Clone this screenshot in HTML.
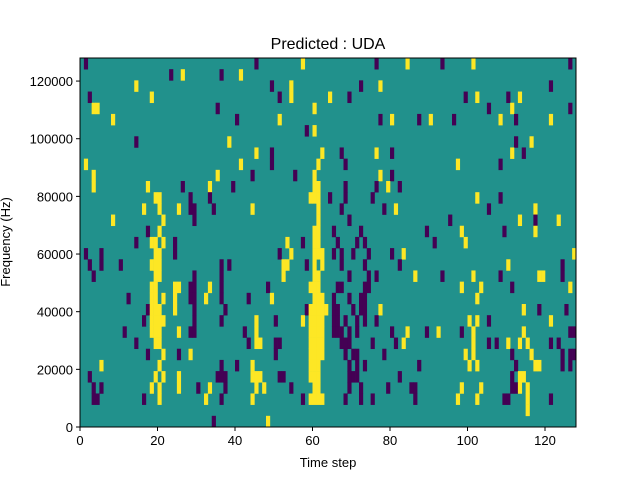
<!DOCTYPE html>
<html><head><meta charset="utf-8"><style>
html,body{margin:0;padding:0;background:#fff;}
svg{display:block;font-family:"Liberation Sans","DejaVu Sans",sans-serif;}
</style></head><body>
<svg id="chart" width="640" height="480" viewBox="0 0 640 480" xmlns="http://www.w3.org/2000/svg">
<rect width="640" height="480" fill="#fff"/>
<text x="328" y="49" font-size="16" text-anchor="middle">Predicted : UDA</text>
<g id="cells"></g>
<g id="axes"></g>
<text x="328" y="467" font-size="13" text-anchor="middle">Time step</text>
<text transform="translate(10,242) rotate(-90)" font-size="13" text-anchor="middle">Frequency (Hz)</text>
</svg>
<script>
// Heatmap data: rows listed top (highest frequency bin) to bottom; tokens: p=low, y=high, rest = mid
const nCols = 128;
const nRows = 33;
const freqMax = 128000;
const xTicks = [0, 20, 40, 60, 80, 100, 120];
const yTicks = [0, 20000, 40000, 60000, 80000, 100000, 120000];
const yTickLabels = ["0", "20000", "40000", "60000", "80000", "100000", "120000"];
const rowCells = [
"p1 p45 y57 p76 y84 p93 y101 p126",
"p23 y26 p36 y41",
"y14 p49 y54 p72 y77 p121",
"p2 y18 p51 y54 y64 p69 p99 y102 p110 y113",
"y3-4 p35 y60 p105 y111 p126",
"y8 p40 y51 p77 y80 p87 y90 p96 y108 p112 y121",
"p58 y60",
"p14 y38 p112 y116",
"y45 p49 y62 p67 y76 p80 y111 p114",
"y1 y41 p49 y61 p68 y97 p108",
"y3 y35 p44 p55 y60 y77 p80",
"y3 y17 p26 y33 p39 y60-61 p68 p76 y79 p82",
"y19-20 p28 p33 y59-61 p64 p68 p75 y102 p108",
"y16 y20 y25 p28-29 p34 y44 y61 p67 p78 y81 p105 y117",
"y8 y21 p29 y61 p69 p95 y113 p117 y123",
"p17 y20 y60-61 p65 p72 p89 y98 p109 y117",
"p14 y18-19 y21 p24 y53 p57 y60-61 p66 p71 p73 p91 y99",
"p1 p5 y19-20 p24 p51 y54 y60-62 p65 p67 p70 p74 p80 y83 y127",
"p2 p5 p10 y18-20 p36 p38 y52-53 p58 y60 y62 p67 p73 p82 y110 p124",
"p3 y19-20 p29 p36 y52 y60-61 p69 p74 p76 y86 p93 y101 p108 y118-119 p124",
"y18-19 y24-25 p28-29 y33 p36 p48 y59-61 p66-67 p73-74 y98 y103 p111 y126",
"p12 y18-19 y21 y24 p28-29 y32 p36 p43 y49 y60-62 p65 p69 p72-73 y102",
"p17 y18-20 y24 p29 p37 p58 y59-63 p65-66 p70 p72-73 y77 y114 p118 p125",
"p16 y18-21 p29 p36 y45 p50 y57 y59-62 p65-66 p68 p71 p73 p76 y100 y102 p105 y121",
"p11 y18-20 y25 p28-29 p42 y45 y59-62 p65-67 p69 p71 p80 y84 p89 y92 p98 y101 y114 p126-127",
"p14 y19-20 p43 y45-46 p50-51 y59-62 p67-69 p75 p81 y83 y101 p105 p107 y110 y113 y115 p121 p123",
"p17 y21 p25 y28 p50 y59-62 p68 p70-71 p78 y99 y101 p111 y116 p124 p126-127",
"y5 y20 p36 p40 y44 y59-61 p69 p71 p73 p87 y100 y102 p112 y117-118 p124 p126",
"p2 y19 y21 y25 p35-37 y44-46 p51-52 y59-61 p69-71 p82 p111 y113-114",
"p3 p5 y18 y20 y25 p30 y33 p37 y45 y47 p54 y60-61 p69 p72 p79 p85-86 y98 y103 p111-112 y113 y115",
"p3-4 p16 y20 y32 p36 y44 p57 y59-62 p68 p72 p75 p86 y97 y102 p109-110 y115 p121",
"y115",
"p34 y48"
];

const NS = "http://www.w3.org/2000/svg";
const L = 80, R = 576, T = 58, B = 427;
function xScale(v){ return L + v / nCols * (R - L); }
function yScale(f){ return B - f / freqMax * (B - T); }
const colors = {p: "#440154", m: "#21918c", y: "#fde725"};

const cellsG = document.getElementById('cells');
const bg = document.createElementNS(NS, 'rect');


bg.setAttribute('x', L); bg.setAttribute('y', T);
bg.setAttribute('width', R - L); bg.setAttribute('height', B - T);
bg.setAttribute('fill', colors.m);
cellsG.appendChild(bg);

const binH = freqMax / nRows;
rowCells.forEach(function(str, r){
  const bin = nRows - 1 - r;
  str.split(/\s+/).filter(Boolean).forEach(function(tok){
    const c = tok[0];
    const parts = tok.slice(1).split('-').map(Number);
    const a = parts[0], b = parts.length > 1 ? parts[1] : parts[0];
    for (let col = a; col <= b; col++) {
      const rect = document.createElementNS(NS, 'rect');
      
      
      const x0 = xScale(col), x1 = xScale(col + 1);
      const y0 = yScale((bin + 1) * binH), y1 = yScale(bin * binH);
      rect.setAttribute('x', x0.toFixed(2));
      rect.setAttribute('y', y0.toFixed(2));
      rect.setAttribute('width', (x1 - x0 + 0.3).toFixed(2));
      rect.setAttribute('height', (y1 - y0 + 0.3).toFixed(2));
      rect.setAttribute('fill', colors[c]);
      cellsG.appendChild(rect);
    }
  });
});

const axesG = document.getElementById('axes');
const frame = document.createElementNS(NS, 'rect');


frame.setAttribute('x', L); frame.setAttribute('y', T);
frame.setAttribute('width', R - L); frame.setAttribute('height', B - T);
frame.setAttribute('fill', 'none'); frame.setAttribute('stroke', '#000'); frame.setAttribute('stroke-width', '1');
axesG.appendChild(frame);

xTicks.forEach(function(v){
  const x = xScale(v);
  const ln = document.createElementNS(NS, 'line');
  
  
  ln.setAttribute('x1', x); ln.setAttribute('x2', x);
  ln.setAttribute('y1', B); ln.setAttribute('y2', B + 4);
  ln.setAttribute('stroke', '#000');
  axesG.appendChild(ln);
  const t = document.createElementNS(NS, 'text');
  
  
  t.setAttribute('x', x); t.setAttribute('y', B + 18);
  t.setAttribute('font-size', '13'); t.setAttribute('text-anchor', 'middle');
  t.textContent = String(v);
  axesG.appendChild(t);
});

yTicks.forEach(function(v, i){
  const y = yScale(v);
  const ln = document.createElementNS(NS, 'line');
  
  
  ln.setAttribute('x1', L - 4); ln.setAttribute('x2', L);
  ln.setAttribute('y1', y); ln.setAttribute('y2', y);
  ln.setAttribute('stroke', '#000');
  axesG.appendChild(ln);
  const t = document.createElementNS(NS, 'text');
  
  
  t.setAttribute('x', L - 7); t.setAttribute('y', y + 5);
  t.setAttribute('font-size', '13'); t.setAttribute('text-anchor', 'end');
  t.textContent = yTickLabels[i];
  axesG.appendChild(t);
});
</script>
</body></html>
